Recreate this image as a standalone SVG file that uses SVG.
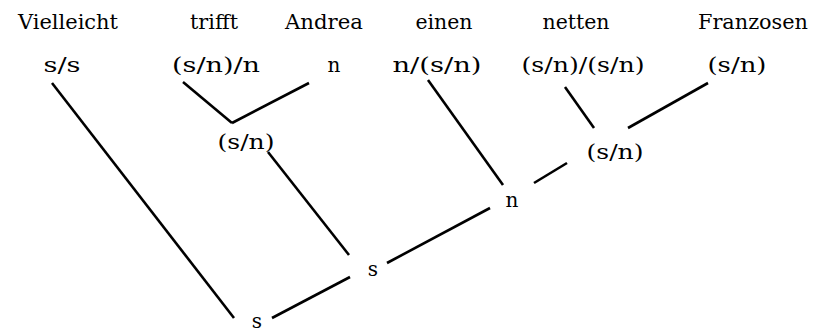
<svg xmlns="http://www.w3.org/2000/svg" width="813" height="332" viewBox="0 0 813 332">
<style>
text{font-family:"DejaVu Serif","Liberation Serif",serif;font-size:20px;fill:#000;text-anchor:middle}
.c line{stroke:#000;stroke-width:2.6;stroke-linecap:butt}
</style>
<rect width="813" height="332" fill="#fff"/>
<g id="words">
<text x="68" y="29" textLength="100" lengthAdjust="spacingAndGlyphs">Vielleicht</text>
<text x="214" y="29" textLength="48" lengthAdjust="spacingAndGlyphs">trifft</text>
<text x="324" y="29" textLength="78" lengthAdjust="spacingAndGlyphs">Andrea</text>
<text x="444" y="29" textLength="57" lengthAdjust="spacingAndGlyphs">einen</text>
<text x="576" y="29" textLength="67" lengthAdjust="spacingAndGlyphs">netten</text>
<text x="753" y="29" textLength="110" lengthAdjust="spacingAndGlyphs">Franzosen</text>
</g>
<g id="n-vielleicht"><text x="62" y="72" textLength="37" lengthAdjust="spacingAndGlyphs">s/s</text></g>
<g id="n-trifft"><text x="216" y="72" textLength="88" lengthAdjust="spacingAndGlyphs">(s/n)/n</text></g>
<g id="n-andrea"><text x="334" y="72">n</text></g>
<g id="n-einen"><text x="437" y="72" textLength="89" lengthAdjust="spacingAndGlyphs">n/(s/n)</text></g>
<g id="n-netten"><text x="583" y="72" textLength="123" lengthAdjust="spacingAndGlyphs">(s/n)/(s/n)</text></g>
<g id="n-franzosen"><text x="737" y="72" textLength="59" lengthAdjust="spacingAndGlyphs">(s/n)</text></g>
<g id="n-sn1"><text x="246" y="149" textLength="57" lengthAdjust="spacingAndGlyphs">(s/n)</text></g>
<g id="n-sn2"><text x="615" y="159" textLength="57" lengthAdjust="spacingAndGlyphs">(s/n)</text></g>
<g id="n-n"><text x="512" y="207">n</text></g>
<g id="n-s1"><text x="373" y="276">s</text></g>
<g id="n-s2"><text x="257" y="328">s</text></g>
<g class="c" id="connectors">
<line x1="52" y1="83" x2="234" y2="318"/>
<line x1="183" y1="82" x2="232" y2="123"/>
<line x1="232" y1="123" x2="309" y2="83"/>
<line x1="268" y1="152" x2="349" y2="255"/>
<line x1="272" y1="318" x2="350" y2="277"/>
<line x1="387" y1="263" x2="490" y2="208"/>
<line x1="428" y1="80" x2="503" y2="185"/>
<line x1="534" y1="183" x2="567" y2="163"/>
<line x1="565" y1="87" x2="594" y2="128"/>
<line x1="628" y1="128" x2="708" y2="83"/>
</g>
</svg>
